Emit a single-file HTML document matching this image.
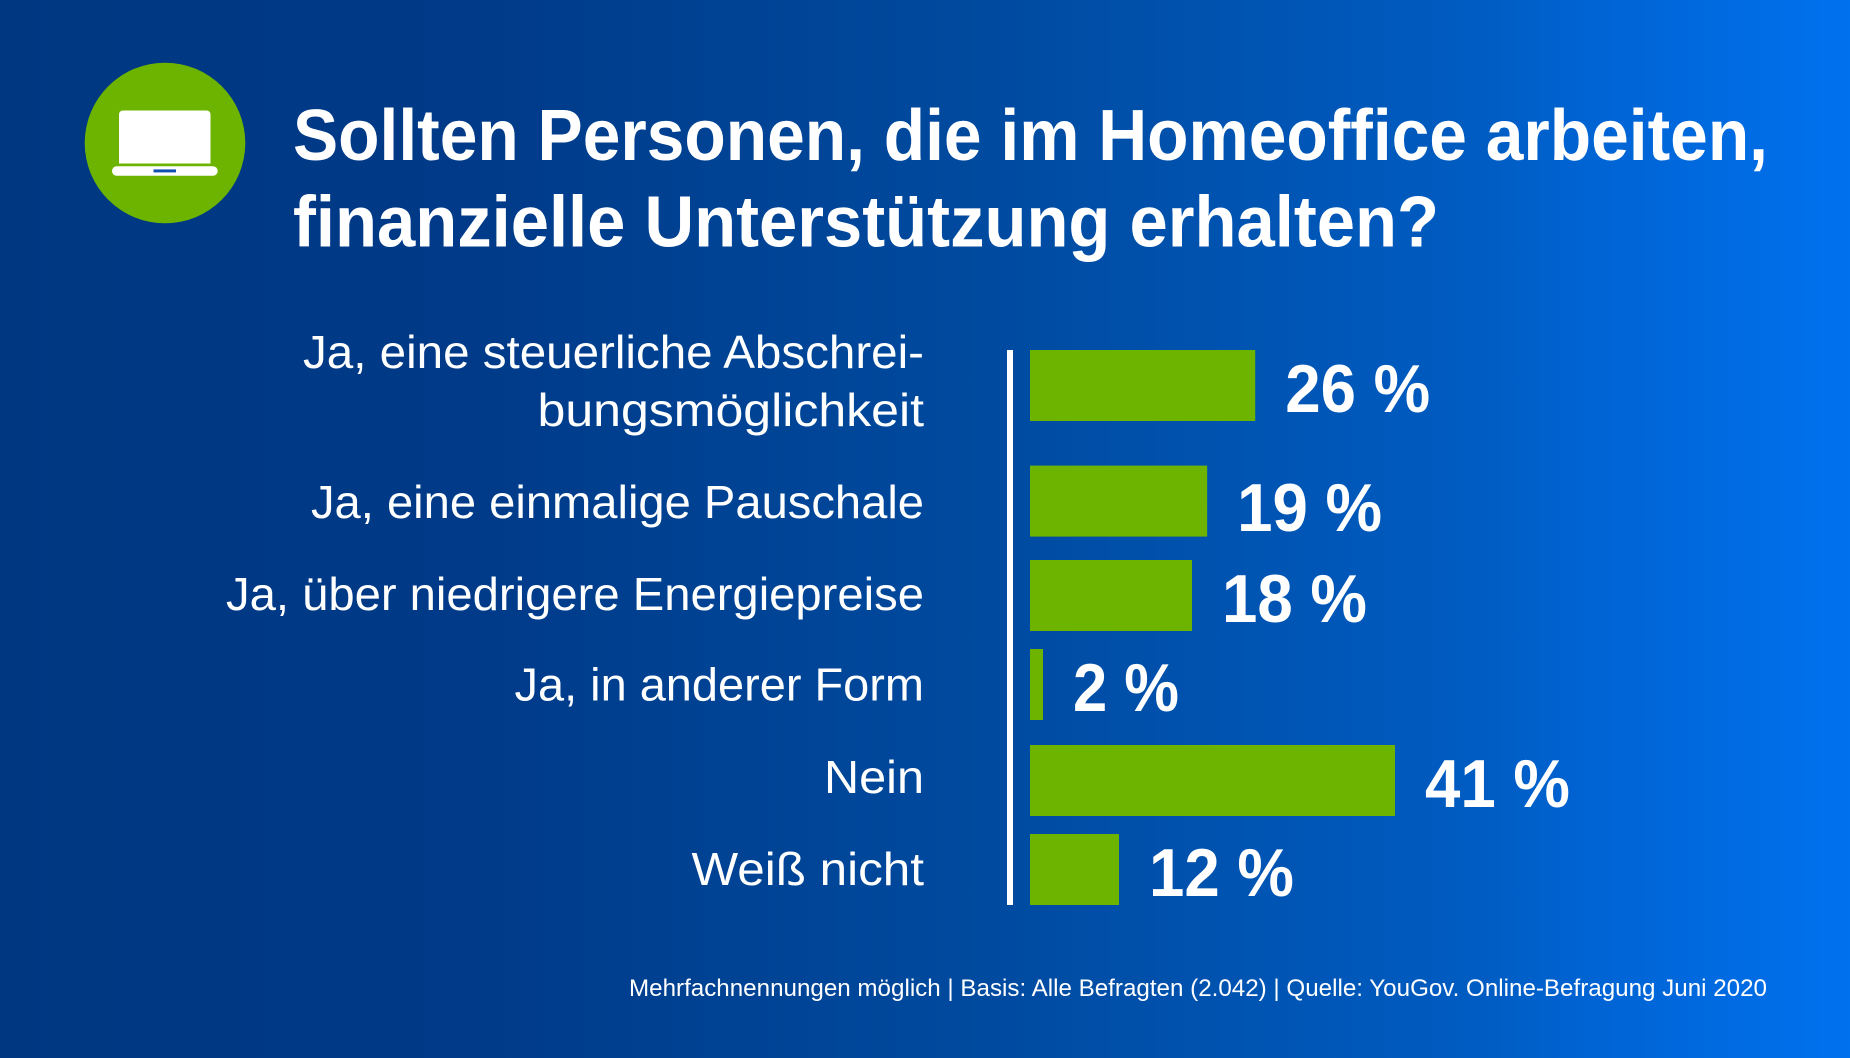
<!DOCTYPE html>
<html lang="de">
<head>
<meta charset="utf-8">
<title>Sollten Personen, die im Homeoffice arbeiten, finanzielle Unterstützung erhalten?</title>
<style>
  html, body { margin: 0; padding: 0; width: 1850px; height: 1058px; overflow: hidden; background: #003781; }
  svg { display: block; font-family: "Liberation Sans", sans-serif; }
  text { fill: #ffffff; }
</style>
</head>
<body>
<svg id="chart" xmlns="http://www.w3.org/2000/svg" width="1850" height="1058" viewBox="0 0 1850 1058">
  <defs>
    <linearGradient id="bg-gradient" x1="0" y1="0" x2="1850" y2="0" gradientUnits="userSpaceOnUse">
      <stop offset="0" stop-color="#003781"/>
      <stop offset="0.25" stop-color="#003a88"/>
      <stop offset="0.53" stop-color="#004a9f"/>
      <stop offset="0.80" stop-color="#005cc2"/>
      <stop offset="0.855" stop-color="#0063d2"/>
      <stop offset="1" stop-color="#0071ee"/>
    </linearGradient>
  </defs>
  <rect x="0" y="0" width="1850" height="1058" fill="url(#bg-gradient)"/>

  <g>
    <circle cx="165" cy="143" r="80.3" fill="#6cb400"/>
    <path d="M119 163.5V114.5a4 4 0 0 1 4-4h83.5a4 4 0 0 1 4 4v49z" fill="#ffffff"/>
    <rect x="112" y="166.3" width="105.7" height="9.4" rx="4.7" fill="#ffffff"/>
    <rect x="153.5" y="169.4" width="22.5" height="3" fill="#0f4fb0"/>
  </g>

  <g font-weight="700" font-size="72">
    <text x="293" y="160" textLength="1475" lengthAdjust="spacingAndGlyphs">Sollten Personen, die im Homeoffice arbeiten,</text>
    <text x="293" y="246.5" textLength="1146" lengthAdjust="spacingAndGlyphs">finanzielle Unterstützung erhalten?</text>
  </g>

  <g id="category-labels" font-size="46"></g>
  <rect x="1007" y="350" width="6" height="555" fill="#ffffff"/>
  <g id="bars"></g>
  <g id="value-labels" font-size="68" font-weight="700"></g>

  <text x="1767" y="996" text-anchor="end" font-size="24" textLength="1138" lengthAdjust="spacingAndGlyphs">Mehrfachnennungen möglich | Basis: Alle Befragten (2.042) | Quelle: YouGov. Online-Befragung Juni 2020</text>
</svg>

<script>
// Chart data
const categories = [
  ["Ja, eine steuerliche Abschrei-", "bungsmöglichkeit"],
  ["Ja, eine einmalige Pauschale"],
  ["Ja, über niedrigere Energiepreise"],
  ["Ja, in anderer Form"],
  ["Nein"],
  ["Weiß nicht"]
];
// Percentages as printed beside the bars
const printedValues = [26, 19, 18, 2, 41, 12];
// Bar lengths as drawn in the picture, in percent on the 41 % scale
const drawnValues = [25.3, 19.9, 18.2, 1.46, 41, 10];

(function () {
  const NS = "http://www.w3.org/2000/svg";

  // Layout
  const plotLeft = 1030;
  const pxPerPercent = 8.902;
  const barHeight = 71;
  const firstBarTop = 350;
  const rowSteps = [115.6, 94.4, 89, 96, 89];
  const labelRight = 924;
  const labelGap = 30;
  const valueBaselineShift = [26.5, 30, 26.5, 26.5, 26.5, 26.5];
  const labelBaselineShift = [[-17.5, 40.5], [17], [14.5], [16], [12.5], [15.5]];
  const labelWidths = [[621, 386.5], [613], [698], [409.5], [100], [232.5]];

  const x = function (v) { return plotLeft + v * pxPerPercent; };
  const rowTop = function (i) {
    let y = firstBarTop;
    for (let k = 0; k < i; k++) y += rowSteps[k];
    return y;
  };

  const barsGroup = document.getElementById("bars");
  const valuesGroup = document.getElementById("value-labels");
  const labelsGroup = document.getElementById("category-labels");

  drawnValues.forEach(function (v, i) {
    const top = rowTop(i);
    const mid = top + barHeight / 2;

    const bar = document.createElementNS(NS, "rect");
    
    
    bar.setAttribute("x", plotLeft);
    bar.setAttribute("y", top);
    bar.setAttribute("width", x(v) - plotLeft);
    bar.setAttribute("height", barHeight);
    bar.setAttribute("fill", "#6cb400");
    barsGroup.appendChild(bar);

    const value = document.createElementNS(NS, "text");
    
    
    value.setAttribute("x", x(v) + labelGap);
    value.setAttribute("y", mid + valueBaselineShift[i]);
    value.textContent = printedValues[i] + " %";
    valuesGroup.appendChild(value);
    const condense = printedValues[i] >= 10 ? 0.935 : 0.905;
    value.setAttribute("textLength", value.getComputedTextLength() * condense);
    value.setAttribute("lengthAdjust", "spacingAndGlyphs");

    categories[i].forEach(function (line, j) {
      const label = document.createElementNS(NS, "text");
      
      
      label.setAttribute("x", labelRight);
      label.setAttribute("y", mid + labelBaselineShift[i][j]);
      label.setAttribute("text-anchor", "end");
      label.setAttribute("textLength", labelWidths[i][j]);
      label.setAttribute("lengthAdjust", "spacingAndGlyphs");
      label.textContent = line;
      labelsGroup.appendChild(label);
    });
  });
})();
</script>
</body>
</html>
